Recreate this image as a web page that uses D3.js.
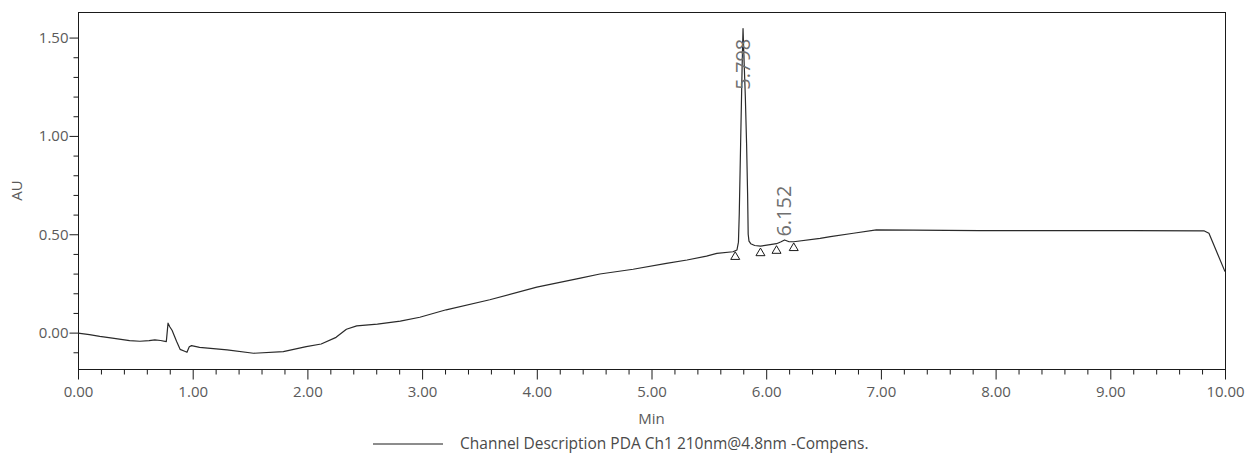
<!DOCTYPE html>
<html>
<head>
<meta charset="utf-8">
<script src="https://cdn.jsdelivr.net/npm/d3@7"></script>
<style>
  html, body { margin: 0; padding: 0; background: #fff; }
  svg { display: block; font-family: "Open Sans", "DejaVu Sans", sans-serif; }
</style>
</head>
<body>
<svg id="chart" width="1251" height="462"></svg>
<script>
// Chromatogram trace: retention time (min) and absorbance (AU)
const timeMin = [
  0.00, 0.10, 0.19, 0.30, 0.45, 0.54, 0.62, 0.67, 0.72, 0.77,
  0.785, 0.80, 0.82, 0.86, 0.89, 0.93, 0.95, 0.97, 0.99, 1.06,
  1.30, 1.53, 1.79, 1.99, 2.12, 2.25, 2.34, 2.43, 2.61, 2.81,
  2.98, 3.21, 3.59, 4.00, 4.38, 4.55, 4.84, 5.13, 5.31, 5.48,
  5.57, 5.71, 5.745, 5.758, 5.765, 5.777, 5.79, 5.798, 5.806, 5.818,
  5.829, 5.838, 5.843, 5.85, 5.865, 5.90, 5.95, 6.09, 6.13, 6.16,
  6.20, 6.24, 6.47, 6.56, 6.76, 6.96, 7.28, 7.86, 8.50, 9.20,
  9.82, 9.86, 10.00
];
const absorbanceAU = [
  -0.003, -0.010, -0.019, -0.028, -0.041, -0.044, -0.041, -0.037, -0.040, -0.046,
  0.048, 0.030, 0.012, -0.045, -0.085, -0.095, -0.100, -0.072, -0.066, -0.075,
  -0.088, -0.105, -0.097, -0.071, -0.058, -0.024, 0.017, 0.034, 0.043, 0.058,
  0.078, 0.116, 0.167, 0.231, 0.277, 0.298, 0.322, 0.352, 0.369, 0.389,
  0.403, 0.411, 0.420, 0.460, 0.600, 0.960, 1.350, 1.546, 1.400, 1.200,
  0.960, 0.700, 0.500, 0.465, 0.452, 0.443, 0.440, 0.452, 0.462, 0.471,
  0.462, 0.462, 0.479, 0.488, 0.505, 0.522, 0.521, 0.518, 0.518, 0.518,
  0.517, 0.505, 0.310
];

// Peak start/end markers on the baseline
const markerTime = [5.73, 5.95, 6.09, 6.24];
const markerAU   = [0.411, 0.430, 0.442, 0.456];

// Retention-time labels of the integrated peaks
const peakLabel    = ["5.798", "6.152"];
const peakLabelAt  = [5.798, 6.152];
const peakLabelAU  = [1.235, 0.488];

// Axis ticks
const xMajorTicks = [0, 1, 2, 3, 4, 5, 6, 7, 8, 9, 10];
const xMinorTicks = d3.range(0, 10.001, 0.2).map(v => +v.toFixed(1)).filter(v => Math.abs(v - Math.round(v)) > 1e-6);
const yMajorTicks = [0, 0.5, 1.0, 1.5];
const yMinorTicks = [-0.1, 0.1, 0.2, 0.3, 0.4, 0.6, 0.7, 0.8, 0.9, 1.1, 1.2, 1.3, 1.4];

const xTitle = "Min";
const yTitle = "AU";
const legendText = "Channel Description PDA Ch1 210nm@4.8nm -Compens.";

const W = 1251, H = 462;
const margin = { top: 12, right: 26, bottom: 93, left: 78 };
const plotW = W - margin.left - margin.right;
const plotH = H - margin.top - margin.bottom;

const svg = d3.select("#chart");
const g = svg.append("g").attr("transform", `translate(${margin.left},${margin.top})`);

const x = d3.scaleLinear().domain([0, 10]).range([0, plotW]);
const y = d3.scaleLinear().domain([-0.185, 1.63]).range([plotH, 0]);

const labelColor = "#5a5a5a";

// Frame
g.append("rect")
  .attr("x", 0.5).attr("y", 0.5)
  .attr("width", plotW).attr("height", plotH)
  .attr("fill", "none").attr("stroke", "#1a1a1a").attr("stroke-width", 1);

// X axis: major ticks with labels, minor ticks without
const xAxis = g.append("g").attr("transform", `translate(0,${plotH + 0.5})`);
xAxis.call(d3.axisBottom(x).tickValues(xMajorTicks).tickFormat(d3.format(".2f")).tickSize(10).tickPadding(7));
xAxis.append("g").call(d3.axisBottom(x).tickValues(xMinorTicks).tickFormat("").tickSize(5));
xAxis.selectAll(".domain").remove();
xAxis.selectAll("line").attr("stroke", "#1a1a1a");
xAxis.selectAll("text").attr("fill", labelColor).style("font-size", "15px").style("font-family", "'Open Sans', sans-serif");

// Y axis
const yAxis = g.append("g").attr("transform", "translate(0.5,0)");
yAxis.call(d3.axisLeft(y).tickValues(yMajorTicks).tickFormat(d3.format(".2f")).tickSize(9).tickPadding(1));
yAxis.append("g").call(d3.axisLeft(y).tickValues(yMinorTicks).tickFormat("").tickSize(5));
yAxis.selectAll(".domain").remove();
yAxis.selectAll("line").attr("stroke", "#1a1a1a");
yAxis.selectAll("text").attr("fill", labelColor).style("font-size", "15px").style("font-family", "'Open Sans', sans-serif");

// Axis titles
g.append("text")
  .attr("x", plotW / 2).attr("y", plotH + 55)
  .attr("text-anchor", "middle")
  .attr("fill", labelColor).style("font-size", "15px")
  .text(xTitle);

g.append("text")
  .attr("transform", `translate(${-56},${plotH / 2}) rotate(-90)`)
  .attr("text-anchor", "middle")
  .attr("fill", labelColor).style("font-size", "15px")
  .text(yTitle);

// Trace
const trace = timeMin.map((t, i) => ({ t, v: absorbanceAU[i] }));
const line = d3.line().x(d => x(d.t)).y(d => y(d.v));
g.append("path")
  .datum(trace)
  .attr("fill", "none")
  .attr("stroke", "#2a2a2a")
  .attr("stroke-width", 1.2)
  .attr("stroke-linejoin", "round")
  .attr("d", line);

// Baseline markers: open triangles with their apex on the baseline point
const tri = 9;
g.selectAll("path.marker")
  .data(markerTime.map((t, i) => ({ t, v: markerAU[i] })))
  .join("path")
  .attr("class", "marker")
  .attr("d", d => {
    const cx = x(d.t), cy = y(d.v);
    return `M${cx},${cy} L${cx + tri / 2},${cy + tri * 0.85} L${cx - tri / 2},${cy + tri * 0.85} Z`;
  })
  .attr("fill", "#fff")
  .attr("stroke", "#1a1a1a")
  .attr("stroke-width", 1);

// Peak retention-time labels, written vertically
g.selectAll("text.peak")
  .data(peakLabel.map((s, i) => ({ s, t: peakLabelAt[i], v: peakLabelAU[i] })))
  .join("text")
  .attr("class", "peak")
  .attr("transform", d => `translate(${x(d.t) + 7},${y(d.v)}) rotate(-90)`)
  .attr("fill", "#707070")
  .style("font-size", "20px")
  .text(d => d.s);

// Legend
const legY = plotH + 75;
g.append("line")
  .attr("x1", 295).attr("x2", 365)
  .attr("y1", legY).attr("y2", legY)
  .attr("stroke", "#1a1a1a").attr("stroke-width", 1);
g.append("text")
  .attr("x", 382).attr("y", legY + 5)
  .attr("fill", "#4a4a4a").style("font-size", "15.5px")
  .text(legendText);
</script>
</body>
</html>
